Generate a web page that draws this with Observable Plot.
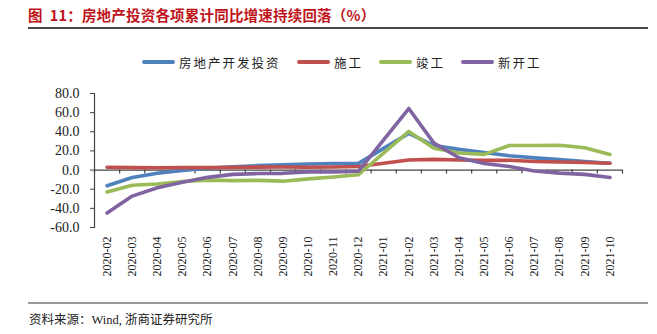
<!DOCTYPE html>
<html>
<head>
<meta charset="utf-8">
<script src="https://cdn.jsdelivr.net/npm/d3@7"></script>
<script src="https://cdn.jsdelivr.net/npm/@observablehq/plot@0.6"></script>
<style>
  html, body { margin: 0; padding: 0; background: #fff; }
  #wrap { position: relative; width: 657px; height: 334px; overflow: hidden; font-family: "Liberation Serif", "Noto Sans CJK SC", serif; }
  #title { position: absolute; left: 28px; top: 4px; font-family: "Noto Sans CJK SC", sans-serif; font-weight: bold; font-size: 14.5px; color: #C0141B; white-space: nowrap; letter-spacing: 0.2px; }
  #rule1 { position: absolute; left: 28px; top: 27px; width: 620px; height: 2px; background: #4a4a4a; }
  #rule2 { position: absolute; left: 28px; top: 302px; width: 620px; height: 2px; background: #999; }
  #source { position: absolute; left: 29px; top: 309px; font-size: 12.5px; color: #222; font-family: "Liberation Serif", "Noto Sans CJK SC", serif; white-space: nowrap; }
  #legend { position: absolute; top: 53px; left: 0; width: 657px; height: 18px; }
  .lg { position: absolute; top: 0; display: flex; align-items: center; height: 18px; font-family: "Noto Sans CJK SC", sans-serif; font-size: 12.5px; color: #222; letter-spacing: 2px; }
  .sw { display: inline-block; width: 33px; height: 4px; border-radius: 2px; margin-right: 4px; }
  #chart { position: absolute; left: 0; top: 40px; }
</style>
</head>
<body>
<div id="wrap">
  <div id="title">图&nbsp;&nbsp;11：房地产投资各项累计同比增速持续回落（%）</div>
  <div id="rule1"></div>
  <div id="legend"></div>
  <div id="chart"></div>
  <div id="rule2"></div>
  <div id="source">资料来源：Wind, 浙商证券研究所</div>
</div>
<script>
const categories = ["2020-02","2020-03","2020-04","2020-05","2020-06","2020-07","2020-08","2020-09","2020-10","2020-11","2020-12","2021-01","2021-02","2021-03","2021-04","2021-05","2021-06","2021-07","2021-08","2021-09","2021-10"];
const seriesNames = ["房地产开发投资", "施工", "竣工", "新开工"];
const seriesColors = ["#4F81BD", "#C0504D", "#9BBB59", "#8064A2"];
const investment = [-16.3, -7.7, -3.3, -0.3, 1.9, 3.4, 4.6, 5.6, 6.3, 6.8, 7.0, null, 38.3, 25.6, 21.6, 18.3, 15.0, 12.7, 10.9, 8.8, 7.2];
const construction = [2.9, 2.6, 2.5, 2.6, 2.6, 2.8, 3.1, 3.2, 3.0, 3.2, 3.7, null, 10.6, 11.2, 10.5, 10.1, 10.2, 9.0, 8.4, 7.9, 7.1];
const completion = [-22.9, -15.8, -14.5, -12.0, -10.5, -11.0, -10.8, -11.6, -9.2, -7.3, -4.9, null, 40.4, 22.9, 17.9, 16.4, 25.7, 25.7, 26.0, 23.4, 16.3];
const newStarts = [-44.9, -27.2, -18.4, -12.8, -7.6, -4.5, -3.6, -3.4, -1.9, -2.0, -1.2, null, 64.3, 28.2, 12.8, 6.9, 3.8, -0.9, -3.2, -4.5, -7.7];
const yTicks = [-60, -40, -20, 0, 20, 40, 60, 80];

const seriesValues = [investment, construction, completion, newStarts];
const rows = [];
seriesValues.forEach((vals, s) => {
  vals.forEach((v, i) => { if (v !== null) rows.push({ s: seriesNames[s], i, v }); });
});
const bounds = d3.range(categories.length + 1).map(i => i - 0.5);

// legend
const legendPos = [142, 297, 379, 461];
const lg = document.getElementById("legend");
seriesNames.forEach((n, k) => {
  const el = document.createElement("div");
  el.className = "lg";
  el.style.left = legendPos[k] + "px";
  el.innerHTML = `<span class="sw" style="background:${seriesColors[k]}"></span><span>${n}</span>`;
  lg.appendChild(el);
});

const chart = Plot.plot({
  width: 657,
  height: 260,
  marginTop: 53,
  marginBottom: 73,
  marginLeft: 94,
  marginRight: 35,
  style: { fontFamily: "'Liberation Serif', serif", fontSize: "13px", color: "#222", background: "transparent" },
  x: { domain: [-0.5, categories.length - 0.5], axis: null },
  y: { domain: [-60, 80], axis: null },
  color: { domain: seriesNames, range: seriesColors },
  marks: [
    Plot.frame({ anchor: "left", stroke: "#444", strokeWidth: 1.2 }),
    Plot.axisY({ ticks: yTicks, tickFormat: d => d.toFixed(1), tickSize: 4, tickPadding: 11, stroke: "#444", fontSize: 14, label: null }),
    Plot.axisX({ ticks: d3.range(categories.length), tickFormat: i => categories[i], tickRotate: -90, tickSize: 0, tickPadding: 9, fontSize: 12, label: null, anchor: "bottom" }),
    Plot.ruleY([0], { stroke: "#444", strokeWidth: 1.2 }),
    Plot.ruleX(bounds, { x: d => d, y1: 0, y2: -4.2, stroke: "#444", strokeWidth: 1.2 }),
    Plot.line(rows, { x: "i", y: "v", z: "s", stroke: "s", strokeWidth: 3.6, strokeLinejoin: "round", strokeLinecap: "round" })
  ]
});
document.getElementById("chart").appendChild(chart);
</script>
</body>
</html>
